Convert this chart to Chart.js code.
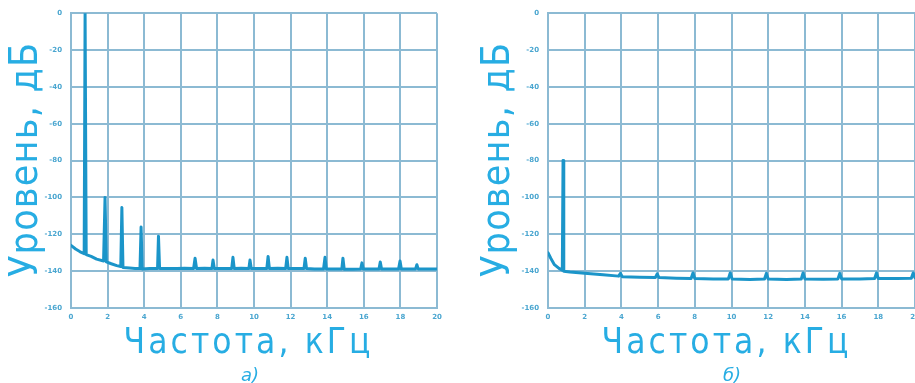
<!DOCTYPE html>
<html>
<head>
<meta charset="utf-8">
<script src="https://cdn.jsdelivr.net/npm/chart.js@4"></script>
<style>
    html, body { margin: 0; padding: 0; background: #fff; }
    body { width: 915px; height: 383px; position: relative; overflow: hidden; }
    .box { position: absolute; top: 0; height: 383px; }
    .title { position: absolute; color: #27ade3; font-family: "DejaVu Sans Condensed", "DejaVu Sans", sans-serif; white-space: nowrap; text-align: center; }
    .xt { font-size: 35px; line-height: 40px; height: 40px; top: 321px; width: 320px; }
    .yt { font-size: 39px; line-height: 44px; height: 44px; width: 320px; top: 138px; transform: rotate(-90deg); }
    .cap { position: absolute; top: 365px; width: 60px; text-align: center; color: #27ade3; font: italic 18px/20px "DejaVu Sans", sans-serif; }
</style>
</head>
<body>

<div class="box" style="left:0; width:455px;"><canvas id="chartA" width="455" height="383"></canvas></div>
<div class="box" style="left:455px; width:480px;"><canvas id="chartB" width="480" height="383"></canvas></div>

<div class="title yt" style="left:-136.5px;" data-w="234">Уровень, дБ</div>
<div class="title xt" style="left:87px;" data-w="247">Частота, кГц</div>
<div class="cap" style="left:220px;">а)</div>

<div class="title yt" style="left:335.5px;" data-w="234">Уровень, дБ</div>
<div class="title xt" style="left:565px;" data-w="247">Частота, кГц</div>
<div class="cap" style="left:702px;">б)</div>

<script>
// shared axes
let xTicks = [0, 2, 4, 6, 8, 10, 12, 14, 16, 18, 20];
let yTicks = [0, -20, -40, -60, -80, -100, -120, -140, -160];

// spectrum a) - kHz / dB
let freqA = [0, 0.25, 0.5, 0.72, 0.77, 0.83, 1.1, 1.4, 1.78, 1.86, 1.93, 2.2, 2.5, 2.72, 2.78, 2.84,
    3.2, 3.5, 3.77, 3.83, 3.89, 4.3, 4.73, 4.78, 4.84, 5.3, 5.8, 6.2, 6.7, 6.78, 6.86,
    7.3, 7.7, 7.76, 7.83, 8.3, 8.78, 8.85, 8.92, 9.3, 9.72, 9.78, 9.85, 10.3, 10.7, 10.77, 10.84,
    11.3, 11.73, 11.8, 11.87, 12.3, 12.73, 12.8, 12.87, 13.3, 13.8, 13.88, 13.95, 14.4, 14.8, 14.86, 14.93,
    15.4, 15.83, 15.9, 15.97, 16.4, 16.83, 16.9, 16.97, 17.5, 17.9, 17.98, 18.05, 18.5, 18.83, 18.9, 18.97, 19.5, 20];
let levelA = [-126, -128, -129.5, -130.5, 0, -131, -132, -133.5, -134.5, -100, -135, -136, -137, -137.5, -105.5, -138,
    -138.3, -138.5, -138.6, -116, -138.8, -138.6, -138.6, -121, -138.6, -138.6, -138.6, -138.4, -138.6, -133, -138.6,
    -138.4, -138.6, -134, -138.6, -138.6, -138.6, -132.5, -138.6, -138.4, -138.6, -134, -138.6, -138.6, -138.6, -132, -138.6,
    -138.4, -138.6, -132.5, -138.6, -138.6, -138.6, -133, -138.6, -138.8, -138.8, -132.5, -138.8, -138.8, -138.8, -133, -139,
    -139, -138.8, -135.5, -138.8, -138.8, -138.8, -135, -138.8, -138.8, -138.8, -134.5, -138.8, -138.8, -138.8, -136.5, -138.8, -138.8, -138.8];

// spectrum б)
let freqB = [0, 0.15, 0.35, 0.6, 0.78, 0.82, 0.86, 1.2, 2, 3, 3.85, 3.95, 4.05, 5, 5.85, 5.95, 6.05, 7,
    7.8, 7.9, 8, 9, 9.83, 9.93, 10.03, 11, 11.8, 11.9, 12, 13, 13.8, 13.9, 14, 15,
    15.8, 15.9, 16, 17, 17.8, 17.9, 18, 19, 19.8, 19.9, 20];
let levelB = [-130, -133, -136.5, -138.5, -139.5, -80, -140, -140.5, -141.2, -142, -142.7, -141.2, -143, -143.3, -143.5, -141.5, -143.5, -143.8,
    -144, -141, -144, -144.3, -144.2, -141, -144.2, -144.5, -144.3, -141.2, -144.3, -144.5, -144.3, -141, -144.2, -144.4,
    -144.2, -141.2, -144.2, -144.3, -144, -141, -144, -144, -143.8, -141, -143.5];

function makeChart(id, freqs, levels, axisWidth, padRight) {
    let points = freqs.map(function(f, i) { return { x: f, y: levels[i] }; });
    let gridColor = "#8cbad3";
    let tickFont = { family: "DejaVu Sans", size: 7, weight: "bold" };
    return new Chart(document.getElementById(id), {
        type: "line",
        data: {
            datasets: [{
                data: points,
                borderColor: "#1b95c9",
                borderWidth: 3,
                borderJoinStyle: "round",
                borderCapStyle: "round",
                pointRadius: 0,
                tension: 0
            }]
        },
        options: {
            responsive: false,
            animation: false,
            layout: { padding: { top: 13, right: padRight, left: 0, bottom: 0 } },
            plugins: { legend: { display: false }, tooltip: { enabled: false } },
            scales: {
                x: {
                    type: "linear",
                    min: 0,
                    max: 20,
                    afterFit: function(scale) { scale.height = 75; },
                    afterBuildTicks: function(scale) { scale.ticks = xTicks.map(function(v) { return { value: v }; }); },
                    ticks: { color: "#4aa6d0", font: tickFont, padding: 5, maxRotation: 0 },
                    grid: { color: gridColor, lineWidth: 2, drawTicks: false },
                    border: { color: gridColor, width: 2 }
                },
                y: {
                    min: -160,
                    max: 0,
                    afterFit: function(scale) { scale.width = axisWidth; },
                    afterBuildTicks: function(scale) { scale.ticks = yTicks.map(function(v) { return { value: v }; }); },
                    ticks: { color: "#4aa6d0", font: tickFont, padding: 9 },
                    grid: { color: gridColor, lineWidth: 2, drawTicks: false },
                    border: { color: gridColor, width: 2 }
                }
            }
        }
    });
}

makeChart("chartA", freqA, levelA, 71, 18);
makeChart("chartB", freqB, levelB, 93, 20);

// stretch the spaced-out titles to the width they take in the picture
document.querySelectorAll(".title").forEach(function(el) {
    let span = document.createElement("span");
    span.textContent = el.textContent;
    el.textContent = "";
    el.appendChild(span);
    let n = span.textContent.length;
    let w = span.getBoundingClientRect();
    let natural = el.classList.contains("yt") ? w.height : w.width;
    let spacing = (parseFloat(el.dataset.w) - natural) / (n - 1);
    span.style.letterSpacing = spacing + "px";
    span.style.marginRight = (-spacing) + "px";
});
</script>
</body>
</html>
